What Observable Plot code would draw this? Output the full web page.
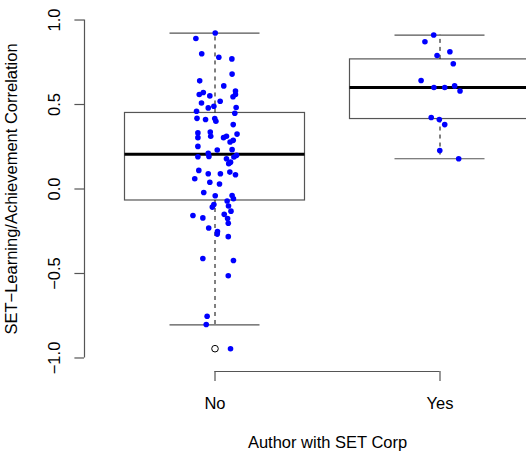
<!DOCTYPE html>
<html>
<head>
<meta charset="utf-8">
<script src="https://cdn.jsdelivr.net/npm/d3@7"></script>
<script src="https://cdn.jsdelivr.net/npm/@observablehq/plot@0.6"></script>
<style>
  html, body { margin: 0; padding: 0; background: #fff; overflow: hidden; }
  #chart svg { display: block; }
</style>
</head>
<body>
<div id="chart"></div>
<script>
// Groups on the x axis
const groups = ["No", "Yes"];

// Correlations for studies whose author was not with SET Corp, with horizontal jitter
const noValues = [
  0.923, 0.891, 0.800, 0.780, 0.770, 0.680, 0.640, 0.610, 0.580, 0.571,
  0.559, 0.551, 0.546, 0.559, 0.519, 0.509, 0.490, 0.480, 0.482, 0.460,
  0.448, 0.418, 0.411, 0.417, 0.401, 0.381, 0.332, 0.304, 0.337, 0.312,
  0.304, 0.312, 0.325, 0.278, 0.288, 0.252, 0.231, 0.233, 0.212, 0.191,
  0.193, 0.179, 0.159, 0.189, 0.199, 0.150, 0.110, 0.090, 0.090, 0.100,
  0.084, 0.061, 0.040, 0.030, -0.021, -0.040, -0.039, -0.058, -0.071, -0.092,
  -0.107, -0.101, -0.131, -0.157, -0.171, -0.150, -0.175, -0.203, -0.231, -0.252,
  -0.267, -0.282, -0.411, -0.423, -0.513, -0.753, -0.802, -0.945
];
const noJitter = [
  0.001, -0.085, -0.059, 0.017, 0.075, 0.076, -0.068, 0.039, 0.091, -0.052,
  -0.070, -0.023, 0.080, 0.091, 0.023, -0.060, -0.005, -0.030, 0.094, -0.082,
  0.088, -0.080, -0.042, -0.001, 0.004, 0.081, -0.076, -0.076, -0.021, -0.019,
  0.038, 0.051, 0.098, 0.067, 0.081, -0.076, 0.010, 0.076, -0.030, -0.076,
  -0.027, 0.051, 0.069, 0.084, 0.096, 0.061, -0.072, -0.030, 0.024, 0.066,
  0.091, -0.090, -0.023, 0.020, -0.050, 0.001, 0.076, 0.082, 0.054, -0.005,
  -0.012, 0.060, 0.071, -0.098, -0.054, 0.041, 0.056, 0.059, -0.028, 0.011,
  0.010, 0.059, -0.054, 0.082, 0.059, -0.035, -0.039, 0.069
];

// Correlations for studies with an author from SET Corp
const yesValues = [0.911, 0.871, 0.812, 0.790, 0.741, 0.642, 0.601, 0.601, 0.610, 0.580, 0.423, 0.411, 0.381, 0.228, 0.179];
const yesJitter = [-0.028, -0.067, 0.044, -0.013, 0.059, -0.084, -0.027, 0.021, 0.065, 0.089, -0.039, -0.003, 0.021, -0.001, 0.083];

// Box-and-whisker statistics per group
const whiskerLow  = [-0.804, 0.179];
const quartile1   = [-0.068, 0.414];
const medians     = [0.206, 0.600];
const quartile3   = [0.450, 0.767];
const whiskerHigh = [0.923, 0.911];
const outlierGroups = ["No"];
const outlierValues = [-0.945];

const yTicks = [-1, -0.5, 0, 0.5, 1];
const xTitle = "Author with SET Corp";
const yTitle = "SET\u2212Learning/Achievement Correlation";

// Tables for the marks
const points = [
  ...noValues.map((v, i) => ({pos: 1 + noJitter[i], value: v})),
  ...yesValues.map((v, i) => ({pos: 2 + yesJitter[i], value: v}))
];
const boxes = groups.map((g, i) => ({
  pos: i + 1, lo: whiskerLow[i], q1: quartile1[i], med: medians[i], q3: quartile3[i], hi: whiskerHigh[i]
}));
const outliers = outlierValues.map((v, i) => ({pos: groups.indexOf(outlierGroups[i]) + 1, value: v}));

const halfBox = 0.4, halfStaple = 0.2;

// Plot limits padded by 4% on each side, base-graphics style
const pad = ([a, b]) => { const d = (b - a) * 0.04; return [a - d, b + d]; };
const xLim = [0.5, groups.length + 0.5];
const yLim = [-1, 1];
const xDom = pad(xLim), yDom = pad(yLim);

const fmt = v => (v < 0 ? "\u2212" : "") + Math.abs(v).toFixed(1);
const font = "'Liberation Sans', Arial, Helvetica, sans-serif";
const fs = 16.5;
const lineColor = "#555";

const chart = Plot.plot({
  width: 526,
  height: 451,
  marginLeft: 84,
  marginRight: -44,
  marginTop: 6,
  marginBottom: 80,
  style: {fontFamily: font, fontSize: fs + "px", background: "#fff", overflow: "hidden", color: "black"},
  x: {type: "linear", domain: xDom, axis: null, label: null},
  y: {type: "linear", domain: yDom, axis: null, label: null},
  marks: [
    // y axis
    Plot.ruleX([xDom[0]], {y1: yLim[0], y2: yLim[1], stroke: lineColor, strokeWidth: 1.2}),
    Plot.axisY({ticks: yTicks, tickSize: 9.6, tickFormat: () => "", label: null, stroke: lineColor, strokeWidth: 1.2}),
    Plot.text(yTicks, {y: d => d, text: fmt, frameAnchor: "left", dx: -25, rotate: -90,
      lineAnchor: "bottom", textAnchor: "middle", fontSize: fs, fontFamily: font, fill: "black"}),
    Plot.text([yTitle], {text: d => d, frameAnchor: "left", dx: -68, rotate: -90,
      lineAnchor: "bottom", textAnchor: "middle", fontSize: fs, fontFamily: font, fill: "black"}),

    // x axis
    Plot.ruleY([yDom[0]], {x1: 1, x2: groups.length, stroke: lineColor, strokeWidth: 1.2}),
    Plot.axisX({ticks: groups.map((g, i) => i + 1), tickSize: 10, tickFormat: () => "", label: null, stroke: lineColor, strokeWidth: 1.2}),
    Plot.text(groups, {x: (d, i) => i + 1, text: d => d, frameAnchor: "bottom", dy: 37,
      lineAnchor: "bottom", fontSize: fs, fontFamily: font, fill: "black"}),
    Plot.text([xTitle], {text: d => d, frameAnchor: "bottom", dy: 76,
      lineAnchor: "bottom", fontSize: fs, fontFamily: font, fill: "black"}),

    // boxes
    Plot.rect(boxes, {x1: d => d.pos - halfBox, x2: d => d.pos + halfBox, y1: "q1", y2: "q3",
      fill: "none", stroke: lineColor, strokeWidth: 1.2}),
    // whiskers
    Plot.ruleX(boxes, {x: "pos", y1: "q3", y2: "hi", stroke: "black", strokeDasharray: "4,4"}),
    Plot.ruleX(boxes, {x: "pos", y1: "q1", y2: "lo", stroke: "black", strokeDasharray: "4,4"}),
    // staples
    Plot.ruleY(boxes, {y: "hi", x1: d => d.pos - halfStaple, x2: d => d.pos + halfStaple, stroke: lineColor, strokeWidth: 1.2}),
    Plot.ruleY(boxes, {y: "lo", x1: d => d.pos - halfStaple, x2: d => d.pos + halfStaple, stroke: lineColor, strokeWidth: 1.2}),
    // medians
    Plot.ruleY(boxes, {y: "med", x1: d => d.pos - halfBox, x2: d => d.pos + halfBox, stroke: "black", strokeWidth: 3}),
    // outliers
    Plot.dot(outliers, {x: "pos", y: "value", r: 3.3, stroke: "black", strokeWidth: 1, fill: "none"}),

    // individual study correlations
    Plot.dot(points, {x: "pos", y: "value", r: 2.8, fill: "blue", stroke: "none"})
  ]
});

document.getElementById("chart").appendChild(chart);
</script>
</body>
</html>
